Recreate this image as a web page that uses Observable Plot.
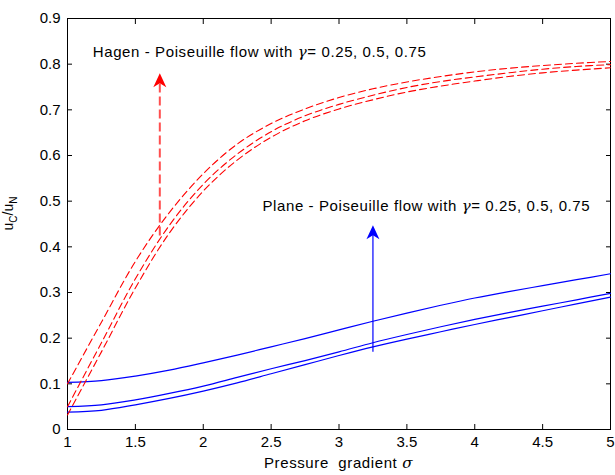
<!DOCTYPE html>
<html>
<head>
<meta charset="utf-8">
<script src="https://cdn.jsdelivr.net/npm/d3@7"></script>
<script src="https://cdn.jsdelivr.net/npm/@observablehq/plot@0.6"></script>
<style>
  html, body { margin: 0; padding: 0; background: #fff; }
  svg { display: block; }
</style>
</head>
<body>
<div id="chart"></div>
<script>
// pressure gradient sigma
const sigma = [1, 1.25, 1.5, 1.75, 2, 2.25, 2.5, 2.75, 3, 3.25, 3.5, 3.75, 4, 4.25, 4.5, 4.75, 5];

// Hagen - Poiseuille flow (red dashed), gamma = 0.25, 0.5, 0.75
const hagenA = [0.100, 0.235, 0.368, 0.475, 0.560, 0.625, 0.670, 0.702, 0.727, 0.746, 0.761, 0.773, 0.783, 0.791, 0.797, 0.802, 0.806];
const hagenB = [0.050, 0.190, 0.330, 0.447, 0.537, 0.603, 0.652, 0.687, 0.712, 0.732, 0.749, 0.762, 0.772, 0.781, 0.789, 0.795, 0.799];
const hagenC = [0.032, 0.170, 0.310, 0.430, 0.522, 0.590, 0.640, 0.676, 0.702, 0.722, 0.739, 0.752, 0.763, 0.773, 0.781, 0.787, 0.792];

// Plane - Poiseuille flow (blue solid), gamma = 0.25, 0.5, 0.75
const planeA = [0.103, 0.107, 0.117, 0.130, 0.146, 0.163, 0.181, 0.199, 0.218, 0.237, 0.255, 0.272, 0.288, 0.302, 0.315, 0.328, 0.341];
const planeB = [0.050, 0.054, 0.065, 0.079, 0.095, 0.114, 0.133, 0.151, 0.170, 0.190, 0.208, 0.225, 0.241, 0.256, 0.270, 0.284, 0.298];
const planeC = [0.038, 0.042, 0.054, 0.068, 0.084, 0.102, 0.122, 0.142, 0.162, 0.181, 0.198, 0.214, 0.230, 0.245, 0.260, 0.275, 0.290];

// tick values and labels
const xTicks = [1, 1.5, 2, 2.5, 3, 3.5, 4, 4.5, 5];
const xTickLabels = ["1", "1.5", "2", "2.5", "3", "3.5", "4", "4.5", "5"];
const yTicks = [0, 0.1, 0.2, 0.3, 0.4, 0.5, 0.6, 0.7, 0.8, 0.9];
const yTickLabels = ["0", "0.1", "0.2", "0.3", "0.4", "0.5", "0.6", "0.7", "0.8", "0.9"];

// arrows (x, from, to)
const hagenArrow = {x: 1.68, y1: 0.425, y2: 0.780};
const planeArrow = {x: 3.25, y1: 0.170, y2: 0.447};

// annotation anchors
const hagenLabel = {x: 1.19, y: 0.827, text: "Hagen - Poiseuille flow with "};
const planeLabel = {x: 2.44, y: 0.489, text: "Plane - Poiseuille flow with "};
const gammaValues = "= 0.25, 0.5, 0.75";

const toRows = (ys) => sigma.map((s, i) => ({x: s, y: ys[i]}));
const redSeries = [hagenA, hagenB, hagenC];
const blueSeries = [planeA, planeB, planeC];

const headSymbol = {
  draw(ctx) {
    ctx.moveTo(0, 0);
    ctx.lineTo(-6.5, 14);
    ctx.lineTo(0, 10);
    ctx.lineTo(6.5, 14);
    ctx.closePath();
  }
};

const marks = [
  Plot.frame({stroke: "black", strokeWidth: 1}),
  Plot.axisX(xTicks, {anchor: "bottom", tickSize: -5, tickPadding: 12, tickFormat: (d, i) => xTickLabels[i], label: null, fontSize: 15}),
  Plot.axisX(xTicks, {anchor: "top", tickSize: -5, tickFormat: () => "", label: null}),
  Plot.axisY(yTicks, {anchor: "left", tickSize: -5, tickPadding: 12, tickFormat: (d, i) => yTickLabels[i], label: null, fontSize: 15}),
  Plot.axisY(yTicks, {anchor: "right", tickSize: -5, tickFormat: () => "", label: null}),
];
for (const s of blueSeries) {
  marks.push(Plot.line(toRows(s), {x: "x", y: "y", stroke: "#0000ff", strokeWidth: 1.2, curve: "catmull-rom"}));
}
for (const s of redSeries) {
  marks.push(Plot.line(toRows(s), {x: "x", y: "y", stroke: "#ff0000", strokeWidth: 1.1, strokeDasharray: "7,4", curve: "catmull-rom"}));
}
// arrows
marks.push(Plot.link([hagenArrow], {x1: "x", x2: "x", y1: "y1", y2: d => d.y2 - 0.015, stroke: "#ff3030", strokeWidth: 2, strokeDasharray: "9,4", strokeOpacity: 0.85}));
marks.push(Plot.dot([hagenArrow], {x: "x", y: "y2", symbol: headSymbol, fill: "#ff0000", stroke: "none", r: 5}));
marks.push(Plot.link([planeArrow], {x1: "x", x2: "x", y1: "y1", y2: d => d.y2 - 0.01, stroke: "#0000ff", strokeWidth: 1.2}));
marks.push(Plot.dot([planeArrow], {x: "x", y: "y2", symbol: headSymbol, fill: "#0000ff", stroke: "none", r: 5}));

const plot = Plot.plot({
  width: 615,
  height: 475,
  marginLeft: 67,
  marginRight: 5,
  marginTop: 18,
  marginBottom: 46,
  x: {domain: [1, 5]},
  y: {domain: [0, 0.9]},
  style: {fontFamily: "'Liberation Sans', Arial, sans-serif", fontSize: "15px", color: "#000", background: "#fff", overflow: "visible"},
  marks
});

document.getElementById("chart").appendChild(plot);

const sx = plot.scale("x"), sy = plot.scale("y");
const svg = d3.select(plot);
const font = "'Liberation Sans', Arial, sans-serif";

function annot(lbl) {
  const t = svg.append("text")
    .attr("x", sx.apply(lbl.x))
    .attr("y", sy.apply(lbl.y))
    .attr("dy", "0.35em")
    .attr("text-anchor", "start")
    .attr("font-family", font)
    .attr("font-size", 15)
    .attr("letter-spacing", 0.6)
    .attr("fill", "#000");
  t.append("tspan").text(lbl.text);
  t.append("tspan").attr("font-style", "italic").attr("font-family", "'DejaVu Serif', serif").text("γ");
  t.append("tspan").text(gammaValues);
}
annot(hagenLabel);
annot(planeLabel);

// x label
const xl = svg.append("text")
  .attr("x", (sx.apply(1) + sx.apply(5)) / 2)
  .attr("y", 468)
  .attr("text-anchor", "middle")
  .attr("font-family", font)
  .attr("font-size", 15)
  .attr("letter-spacing", 0.6)
  .attr("fill", "#000");
xl.append("tspan").text("Pressure  gradient ");
xl.append("tspan").attr("font-style", "italic").attr("font-family", "'DejaVu Serif', serif").text("σ");

// y label
const yl = svg.append("text")
  .attr("transform", `translate(13,${(sy.apply(0) + sy.apply(0.9)) / 2 - 10}) rotate(-90)`)
  .attr("text-anchor", "middle")
  .attr("font-family", font)
  .attr("font-size", 14)
  .attr("fill", "#000");
yl.append("tspan").text("u");
yl.append("tspan").attr("dy", 4).attr("font-size", 10).text("C");
yl.append("tspan").attr("dy", -4).text("/u");
yl.append("tspan").attr("dy", 4).attr("font-size", 10).text("N");
</script>
</body>
</html>
